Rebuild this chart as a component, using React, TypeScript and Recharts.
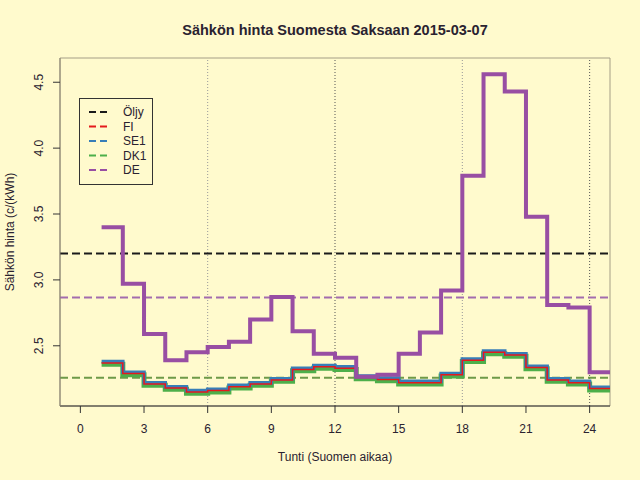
import { Line, LineChart, ReferenceArea, ReferenceLine, XAxis, YAxis } from 'recharts';

const hours = [1, 2, 3, 4, 5, 6, 7, 8, 9, 10, 11, 12, 13, 14, 15, 16, 17, 18, 19, 20, 21, 22, 23, 24];

const fi = [2.37, 2.29, 2.21, 2.18, 2.15, 2.16, 2.19, 2.21, 2.24, 2.32, 2.34, 2.33, 2.26, 2.245, 2.22, 2.22, 2.28, 2.39, 2.45, 2.43, 2.335, 2.24, 2.22, 2.175];
const se1 = [2.38, 2.3, 2.22, 2.19, 2.16, 2.17, 2.2, 2.22, 2.25, 2.33, 2.35, 2.34, 2.27, 2.255, 2.23, 2.23, 2.29, 2.4, 2.46, 2.44, 2.345, 2.25, 2.23, 2.185];
const dk1 = [2.36, 2.28, 2.2, 2.17, 2.14, 2.15, 2.18, 2.2, 2.23, 2.31, 2.33, 2.32, 2.25, 2.235, 2.21, 2.21, 2.27, 2.38, 2.44, 2.42, 2.325, 2.23, 2.21, 2.165];
const de = [3.4, 2.97, 2.59, 2.39, 2.45, 2.49, 2.53, 2.7, 2.87, 2.61, 2.44, 2.41, 2.265, 2.28, 2.44, 2.6, 2.92, 3.79, 4.56, 4.43, 3.48, 2.81, 2.79, 2.3];

// horizontal reference levels
const oilPrice = 3.2;
const deAverage = 2.867;
const dk1Average = 2.258;

const xTicks = [0, 3, 6, 9, 12, 15, 18, 21, 24];
const yTicks = [2.5, 3.0, 3.5, 4.0, 4.5];
const dayMarks = [6, 12, 18, 24];

const legendItems = [
  { name: 'Öljy', color: '#1a1a1a' },
  { name: 'FI', color: '#e41a1c' },
  { name: 'SE1', color: '#377eb8' },
  { name: 'DK1', color: '#4daf4a' },
  { name: 'DE', color: '#984ea3' },
];

// step lines need a closing point after the last hour
const chartData = [...hours, hours[hours.length - 1] + 1].map((h, i) => {
  const k = Math.min(i, hours.length - 1);
  return { hour: h, fi: fi[k], se1: se1[k], dk1: dk1[k], de: de[k] };
});

const font = '"Liberation Sans", Arial, sans-serif';
const textColor = '#2a2230';

const XTick = ({ x, payload }: any) => (
  <text x={x} y={429} textAnchor="middle" dominantBaseline="central" fontSize={12} fontFamily={font} fill={textColor}>
    {payload.value}
  </text>
);

const YTick = ({ y, payload }: any) => (
  <text
    x={39}
    y={y}
    transform={`rotate(-90, 39, ${y})`}
    textAnchor="middle"
    dominantBaseline="central"
    fontSize={12}
    fontFamily={font}
    fill={textColor}
  >
    {Number(payload.value).toFixed(1)}
  </text>
);

export default function App() {
  return (
    <div style={{ position: 'fixed', left: 0, top: 0, width: 640, height: 480, background: '#fffacd', fontFamily: font }}>
      <LineChart width={640} height={480} data={chartData} margin={{ top: 58, right: 30, left: 0, bottom: 0 }}>
        <ReferenceArea x1={-0.96} x2={24.96} y1={2.043} y2={4.684} fill="none" stroke="#a59e86" strokeWidth={1} />
        <XAxis
          dataKey="hour"
          type="number"
          domain={[-0.96, 24.96]}
          ticks={xTicks}
          allowDataOverflow
          height={74}
          tickSize={7}
          tick={<XTick />}
          axisLine={{ stroke: '#333' }}
          tickLine={{ stroke: '#333' }}
        />
        <YAxis
          type="number"
          domain={[2.043, 4.684]}
          ticks={yTicks}
          allowDataOverflow
          width={60}
          tickSize={7}
          tick={<YTick />}
          axisLine={{ stroke: '#8a8472' }}
          tickLine={{ stroke: '#333' }}
        />
        {dayMarks.map((d) => (
          <ReferenceLine
            key={d}
            x={d}
            stroke={d % 12 === 0 ? '#555' : '#999'}
            strokeDasharray="1 2"
            strokeWidth={1}
          />
        ))}
        <ReferenceLine y={oilPrice} stroke="#1a1a1a" strokeDasharray="8 4" strokeWidth={2} />
        <ReferenceLine y={deAverage} stroke="#a36cae" strokeDasharray="8 4" strokeWidth={2} />
        <ReferenceLine y={dk1Average} stroke="#6e9a48" strokeDasharray="8 4" strokeWidth={2} />
        <Line dataKey="dk1" type="stepAfter" stroke="#4daf4a" strokeWidth={5} dot={false} isAnimationActive={false} />
        <Line dataKey="se1" type="stepAfter" stroke="#377eb8" strokeWidth={3.5} dot={false} isAnimationActive={false} />
        <Line dataKey="fi" type="stepAfter" stroke="#e41a1c" strokeWidth={1.5} dot={false} isAnimationActive={false} />
        <Line dataKey="de" type="stepAfter" stroke="#984ea3" strokeWidth={4} dot={false} isAnimationActive={false} />
      </LineChart>

      <div style={{ position: 'absolute', left: 335, top: 30, transform: 'translate(-50%, -50%)', fontSize: 14.5, fontWeight: 'bold', color: textColor, whiteSpace: 'nowrap' }}>
        Sähkön hinta Suomesta Saksaan 2015-03-07
      </div>
      <div style={{ position: 'absolute', left: 335, top: 457, transform: 'translate(-50%, -50%)', fontSize: 12, color: textColor, whiteSpace: 'nowrap' }}>
        Tunti (Suomen aikaa)
      </div>
      <div style={{ position: 'absolute', left: 10, top: 232, transform: 'translate(-50%, -50%) rotate(-90deg)', fontSize: 12, color: textColor, whiteSpace: 'nowrap' }}>
        Sähkön hinta (c/(kWh)
      </div>

      <svg style={{ position: 'absolute', left: 79, top: 98 }} width={75} height={88}>
        <rect x={0.5} y={0.5} width={73} height={86} fill="#fffacd" stroke="#333" />
        {legendItems.map((item, i) => (
          <g key={item.name}>
            <line x1={10} x2={30} y1={14 + i * 14.5} y2={14 + i * 14.5} stroke={item.color} strokeWidth={2} strokeDasharray="7 4" />
            <text x={44} y={14 + i * 14.5} dominantBaseline="central" fontSize={12} fontFamily={font} fill={textColor}>
              {item.name}
            </text>
          </g>
        ))}
      </svg>
    </div>
  );
}
